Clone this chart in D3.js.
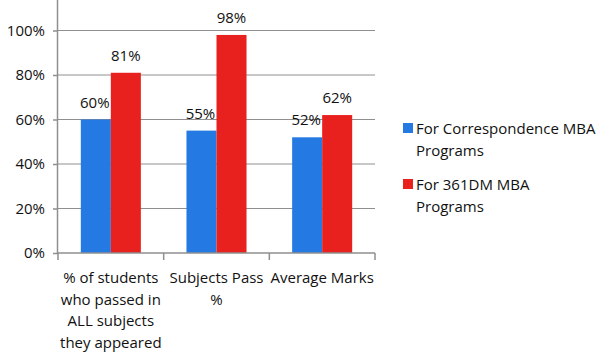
<!DOCTYPE html>
<html><head><meta charset="utf-8">
<script src="https://cdn.jsdelivr.net/npm/d3@7/dist/d3.min.js"></script>
<style>body{margin:0;background:#fff}svg{display:block}text{font-family:"Open Sans",sans-serif;fill:#111}</style>
</head><body><svg id="c" width="606" height="364"></svg>
<script>
const categories = [["% of students","who passed in","ALL subjects","they appeared"],["Subjects Pass","%"],["Average Marks"]];
const seriesNames = [["For Correspondence MBA","Programs"],["For 361DM MBA","Programs"]];
const correspondence = [0.60, 0.55, 0.52];
const dm361 = [0.81, 0.98, 0.62];
const labelsC = ["60%","55%","52%"];
const labelsD = ["81%","98%","62%"];
const yTicks = [0,0.2,0.4,0.6,0.8,1.0];
const colors = ["#2479e2","#e8211e"];

const svg = d3.select("#c");
const L=58, R=375, B=253, FS="15px";
const x = d3.scaleBand().domain([0,1,2]).range([L,R]).paddingInner(0).paddingOuter(0);
const xs = d3.scaleBand().domain([0,1]).range([0,x.bandwidth()]).paddingInner(0).paddingOuter(0.76);
const y = d3.scaleLinear().domain([0,1.2]).range([B,-14]);

// grid
svg.append("g").selectAll("line").data(yTicks.slice(1)).join("line")
  .attr("x1",L).attr("x2",R).attr("y1",d=>y(d)).attr("y2",d=>y(d))
  .attr("stroke","#8f8f8f").attr("stroke-width",1.2);

// y axis
const ya = svg.append("g").attr("transform",`translate(${L},0)`)
  .call(d3.axisLeft(y).tickValues(yTicks).tickFormat(d3.format(".0%")).tickSize(5).tickPadding(8));
ya.select(".domain").attr("d",`M-0.5,${y(1.2)}V${B}`);
ya.selectAll("line,path").attr("stroke","#8f8f8f").attr("stroke-width",1.5);
ya.selectAll("text").style("font-size",FS).attr("fill","#111");

// bars
const series = [correspondence, dm361];
const labels = [labelsC, labelsD];
series.forEach((s,si)=>{
  svg.append("g").selectAll("rect").data(s).join("rect")
    .attr("x",(d,i)=>x(i)+xs(si)).attr("width",xs.bandwidth())
    .attr("y",d=>y(d)).attr("height",d=>B-y(d)).attr("fill",colors[si]);
  svg.append("g").selectAll("text").data(s).join("text")
    .attr("x",(d,i)=>x(i)+xs(si)+xs.bandwidth()/2 - (si===0?1:0)).attr("y",d=>y(d)-12)
    .attr("text-anchor","middle").style("font-size",FS).text((d,i)=>labels[si][i]);
});

// x axis
const xa = svg.append("g").attr("transform",`translate(0,${B})`);
xa.append("line").attr("x1",L).attr("x2",R).attr("y1",0).attr("y2",0).attr("stroke","#8f8f8f").attr("stroke-width",1.5);
xa.selectAll("line.t").data([0,1,2,3]).join("line").attr("class","t")
  .attr("x1",d=>L+d*x.bandwidth()).attr("x2",d=>L+d*x.bandwidth()).attr("y1",0).attr("y2",7)
  .attr("stroke","#8f8f8f").attr("stroke-width",1.5);
categories.forEach((lines,i)=>{
  const t = svg.append("text").attr("x",x(i)+x.bandwidth()/2).attr("y",283).attr("text-anchor","middle").style("font-size",FS);
  lines.forEach((ln,j)=>t.append("tspan").attr("x",x(i)+x.bandwidth()/2).attr("dy",j===0?0:21.7).text(ln));
});

// legend
const lg = svg.append("g");
seriesNames.forEach((nm,i)=>{
  const yy = 123 + i*56;
  lg.append("rect").attr("x",403).attr("y",yy).attr("width",10).attr("height",10).attr("fill",colors[i]);
  const t = lg.append("text").attr("x",416).attr("y",yy+10.5).style("font-size",FS);
  nm.forEach((ln,j)=>t.append("tspan").attr("x",416).attr("dy",j===0?0:22).text(ln));
});
</script></body></html>
